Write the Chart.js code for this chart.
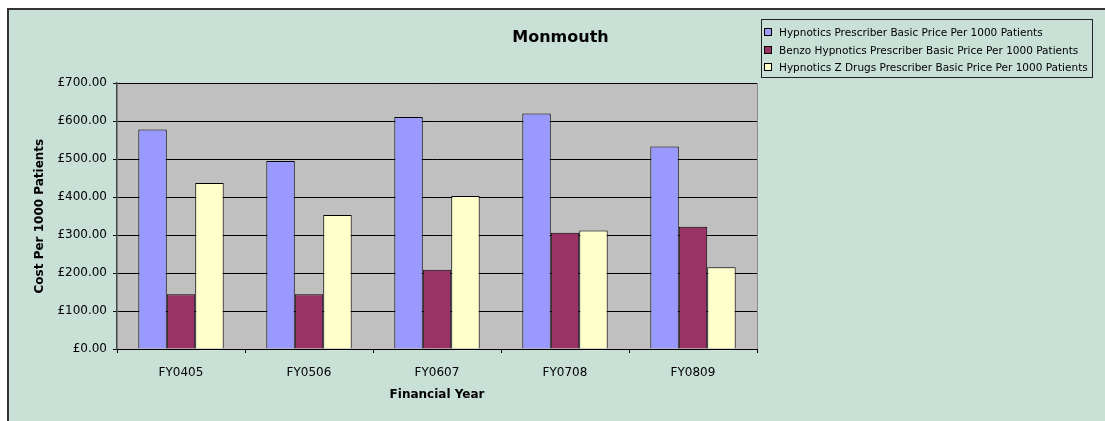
<!doctype html>
<html lang="en">
  <head>
    <title>Monmouth</title>
    <style>
      body { margin: 0; background: #fff; }
      #frame { position: absolute; left: 7px; top: 8px; width: 1098px; height: 413px;
               background: #c9e0d7; border-top: 2px solid #333; border-left: 2px solid #333; box-sizing: border-box; }
      #wrap { position: absolute; left: 0; top: 0; width: 1105px; height: 421px; }
      #legend { position: absolute; left: 761px; top: 19px; width: 332px; height: 59px;
                border: 1px solid #222; box-sizing: border-box; padding-top: 3px;
                font: 10.5px "DejaVu Sans"; color: #000; }
      .row { height: 17.8px; display: flex; align-items: center; padding-left: 2px; }
      .sw { width: 6px; height: 6px; border: 1px solid #000; margin-right: 7px; }
    </style>
  </head>
  <body>
    <div id="frame"></div>
    <div id="wrap"><canvas id="chart1"></canvas></div>
    <div id="legend"></div>
  <script src="https://cdn.jsdelivr.net/npm/chart.js"></script>
  <script>

    const years = ['FY0405', 'FY0506', 'FY0607', 'FY0708', 'FY0809'];
    const hypnotics = [578, 495, 611, 620, 533];
    const benzo = [144, 144, 209, 306, 322];
    const zDrugs = [437, 353, 403, 312, 215];
    const seriesNames = [
        'Hypnotics Prescriber Basic Price Per 1000 Patients',
        'Benzo Hypnotics Prescriber Basic Price Per 1000 Patients',
        'Hypnotics Z Drugs Prescriber Basic Price Per 1000 Patients'
    ];
    const seriesColors = ['#9999ff', '#993366', '#ffffcc'];

    Chart.defaults.font.family = 'DejaVu Sans';
    Chart.defaults.font.size = 12;
    Chart.defaults.color = '#000';

    const plotBg = {
        id: 'plotBg',
        afterLayout(chart) {
            // centre the title over the whole frame, not just the plot side
            const t = chart.titleBlock;
            if (t) {
                t.left = 7;
                t.right = 1114;
                t.width = t.right - t.left;
            }
        },
        beforeDraw(chart) {
            const a = chart.chartArea;
            const c = chart.ctx;
            c.save();
            c.fillStyle = '#c0c0c0';
            c.fillRect(a.left, a.top, a.right - a.left, a.bottom - a.top);
            c.strokeStyle = '#8a8a8a';
            c.lineWidth = 1;
            c.beginPath();
            c.moveTo(a.right + 0.5, a.top);
            c.lineTo(a.right + 0.5, a.bottom);
            c.stroke();
            c.restore();
        }
    };

    const ctx = document.getElementById('chart1');
    ctx.width = 1105;
    ctx.height = 421;

    const chart = new Chart(ctx, {
        type: 'bar',
        data: {
            labels: years,
            datasets: [hypnotics, benzo, zDrugs].map((vals, i) => ({
                label: seriesNames[i],
                data: vals,
                backgroundColor: seriesColors[i],
                borderColor: '#000',
                borderWidth: 1,
                categoryPercentage: 0.667,
                barPercentage: 1
            }))
        },
        options: {
            responsive: false,
            animation: false,
            layout: { padding: { left: 33, right: 348, top: 0, bottom: 19 } },
            plugins: {
                legend: { display: false },
                tooltip: { enabled: false },
                title: {
                    display: true,
                    text: 'Monmouth',
                    font: { size: 16, weight: 'bold' },
                    color: '#000',
                    padding: { top: 28, bottom: 36 }
                }
            },
            scales: {
                x: {
                    grid: { drawOnChartArea: false, drawTicks: true, tickLength: 4, color: '#000' },
                    border: { color: '#000', width: 1 },
                    ticks: { padding: 13, color: '#000' },
                    title: { display: true, text: 'Financial Year', font: { weight: 'bold', size: 12 }, padding: 0, color: '#000' },
                    afterFit(scale) { scale.height = 53; }
                },
                y: {
                    min: 0,
                    max: 700,
                    grid: { color: '#000', tickLength: 4 },
                    border: { color: '#444', width: 1.5 },
                    ticks: {
                        stepSize: 100,
                        padding: 6,
                        color: '#000',
                        callback: v => '£' + Number(v).toFixed(2)
                    },
                    title: { display: true, text: 'Cost Per 1000 Patients', font: { weight: 'bold', size: 12 }, padding: 0, color: '#000' },
                    afterFit(scale) { scale.width = 84; }
                }
            }
        },
        plugins: [plotBg]
    });

    const legend = document.getElementById('legend');
    chart.data.datasets.forEach(ds => {
        const row = document.createElement('div');
        row.className = 'row';
        const sw = document.createElement('span');
        sw.className = 'sw';
        sw.style.background = ds.backgroundColor;
        const txt = document.createElement('span');
        txt.textContent = ds.label;
        row.appendChild(sw);
        row.appendChild(txt);
        legend.appendChild(row);
    });

  </script>
  </body>
</html>
